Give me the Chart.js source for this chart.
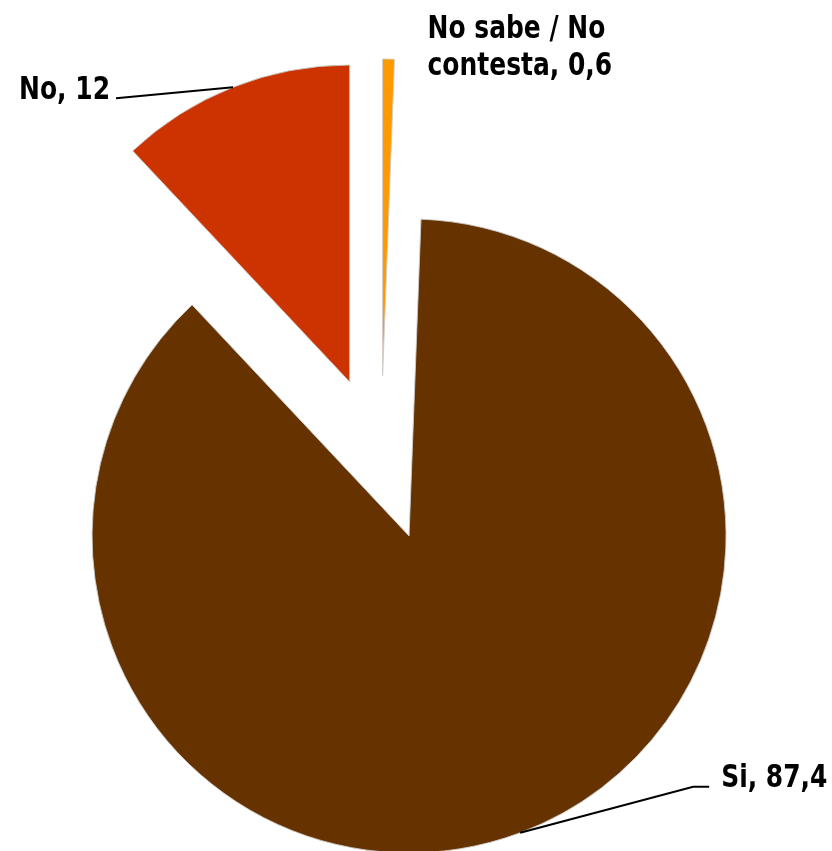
<!DOCTYPE html>
<html>
<head>
<meta charset="utf-8">
<script src="https://cdn.jsdelivr.net/npm/chart.js@4"></script>
<style>
  html, body { margin: 0; padding: 0; background: #ffffff; }
  #wrap { width: 832px; height: 851px; position: relative; }
</style>
</head>
<body>
<div id="wrap"><canvas id="c"></canvas></div>
<script>
// ---- data ----
const categories = ['No sabe / No contesta', 'Si', 'No'];
const values = [0.6, 87.4, 12];

// ---- styles / layout (kept apart from data) ----
const colors = ['#FF9900', '#663300', '#CC3300'];
const explode = [85, 80, 85];          // px each slice is pulled out
const FONT = 'bold 32px "DejaVu Sans", sans-serif';
const XSCALE = 0.78;
// label placement relative to the outer mid point of each (exploded) slice
const labelLayout = [
  { dx: 39,   dy: -21, align: 'left',  lineH: 37, leader: null },
  { dx: 201,  dy: -46, align: 'left',  lineH: 37, leader: [[173, -46], [189, -46]] },
  { dx: -123, dy: 12,  align: 'right', lineH: 37, leader: [[-117, 11]] }
];

function fmt(v) { return String(v).replace('.', ','); }

function wrapText(ctx, text, maxW) {
  const words = text.split(' ');
  const lines = [];
  let cur = '';
  words.forEach(w => {
    const t = cur ? cur + ' ' + w : w;
    if (cur && ctx.measureText(t).width * XSCALE > maxW) { lines.push(cur); cur = w; }
    else cur = t;
  });
  if (cur) lines.push(cur);
  return lines;
}

const explodePlugin = {
  id: 'explodeDraw',
  beforeDatasetDraw(chart, args) {
    const ctx = chart.ctx;
    args.meta.data.forEach((arc, i) => {
      const mid = (arc.startAngle + arc.endAngle) / 2;
      const d = explode[i] || 0;
      ctx.save();
      ctx.translate(Math.cos(mid) * d, Math.sin(mid) * d);
      arc.draw(ctx, chart.chartArea);
      ctx.restore();
    });
    return false;
  },
  afterDatasetsDraw(chart) {
    const ctx = chart.ctx;
    const meta = chart.getDatasetMeta(0);
    ctx.save();
    ctx.font = FONT;
    ctx.fillStyle = '#000000';
    ctx.strokeStyle = '#000000';
    ctx.textBaseline = 'alphabetic';
    meta.data.forEach((arc, i) => {
      const mid = (arc.startAngle + arc.endAngle) / 2;
      const R = arc.outerRadius + (explode[i] || 0);
      const mx = arc.x + Math.cos(mid) * R;
      const my = arc.y + Math.sin(mid) * R;
      const L = labelLayout[i];
      if (L.leader) {
        ctx.beginPath();
        ctx.lineWidth = 2;
        ctx.moveTo(mx, my);
        L.leader.forEach(p => ctx.lineTo(mx + p[0], my + p[1]));
        ctx.stroke();
      }
      const text = categories[i] + ', ' + fmt(values[i]);
      const lines = wrapText(ctx, text, 195);
      ctx.textAlign = L.align;
      lines.forEach((ln, k) => {
        ctx.save();
        ctx.translate(mx + L.dx, my + L.dy + k * L.lineH);
        ctx.scale(XSCALE, 1);
        ctx.fillText(ln, 0, 0);
        ctx.restore();
      });
    });
    ctx.restore();
  }
};

new Chart(document.getElementById('c'), {
  type: 'pie',
  data: {
    labels: categories,
    datasets: [{
      data: values,
      backgroundColor: colors,
      borderColor: 'rgba(205,205,205,0.9)',
      borderWidth: 1
    }]
  },
  options: {
    responsive: true,
    maintainAspectRatio: false,
    animation: false,
    events: [],
    radius: 317,
    layout: { padding: { left: 0, right: 70, top: 71, bottom: 0 } },
    plugins: {
      legend: { display: false },
      tooltip: { enabled: false }
    }
  },
  plugins: [explodePlugin]
});
</script>
</body>
</html>
